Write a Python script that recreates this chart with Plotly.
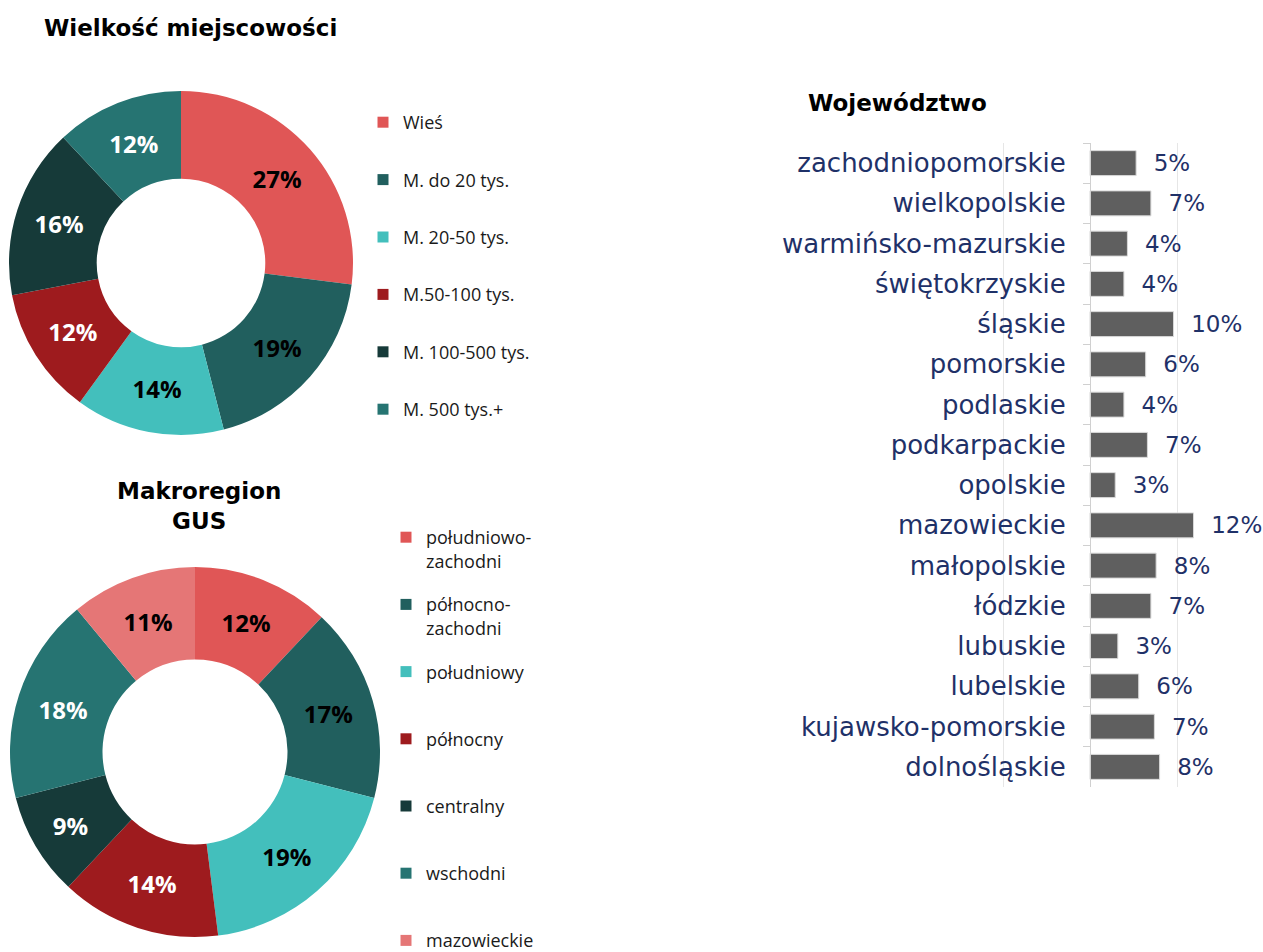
import plotly.graph_objects as go

W, H = 1263, 952

# --- Data ---
size_labels = ["Wieś", "M. do 20 tys.", "M. 20-50 tys.", "M.50-100 tys.", "M. 100-500 tys.", "M. 500 tys.+"]
size_values = [27, 19, 14, 12, 16, 12]
size_colors = ["#E05656", "#215F5E", "#43BFBC", "#9E1B1E", "#163A39", "#267472"]
size_text_colors = ["black", "black", "black", "white", "white", "white"]

region_labels = ["południowo-<br>zachodni", "północno-<br>zachodni", "południowy", "północny", "centralny", "wschodni", "mazowieckie"]
region_values = [12, 17, 19, 14, 9, 18, 11]
region_colors = ["#E05656", "#215F5E", "#43BFBC", "#9E1B1E", "#163A39", "#267472", "#E57676"]
region_text_colors = ["black", "black", "black", "white", "white", "white", "black"]

voiv_labels = ["zachodniopomorskie", "wielkopolskie", "warmińsko-mazurskie", "świętokrzyskie", "śląskie",
               "pomorskie", "podlaskie", "podkarpackie", "opolskie", "mazowieckie", "małopolskie", "łódzkie",
               "lubuskie", "lubelskie", "kujawsko-pomorskie", "dolnośląskie"]
voiv_values = [0.053, 0.070, 0.043, 0.039, 0.096, 0.064, 0.039, 0.066, 0.029, 0.119, 0.076, 0.070,
               0.032, 0.056, 0.074, 0.080]

NAVY = "#1F3168"

def px_x(p):
    return p / W

def px_y(p):
    return 1 - p / H

fig = go.Figure()

# Donut 1
fig.add_trace(go.Pie(
    labels=size_labels, values=size_values, sort=False, direction="clockwise", rotation=0,
    hole=0.49, marker=dict(colors=size_colors),
    texttemplate="<b>%{value}%</b>", textposition="inside", insidetextorientation="horizontal",
    textfont=dict(family="Open Sans", size=24, color=size_text_colors),
    domain=dict(x=[px_x(9), px_x(353)], y=[px_y(435), px_y(91)]),
    showlegend=False, hoverinfo="label+value",
))

# Donut 2
fig.add_trace(go.Pie(
    labels=region_labels, values=region_values, sort=False, direction="clockwise", rotation=0,
    hole=0.5, marker=dict(colors=region_colors),
    texttemplate="<b>%{value}%</b>", textposition="inside", insidetextorientation="horizontal",
    textfont=dict(family="Open Sans", size=24, color=region_text_colors),
    domain=dict(x=[px_x(10), px_x(380)], y=[px_y(937), px_y(567)]),
    showlegend=False, hoverinfo="label+value",
))

# Legend entries (dummy traces so each item can be spaced like the original)
for i, (lab, col) in enumerate(zip(size_labels, size_colors)):
    fig.add_trace(go.Scatter(
        x=[None], y=[None], mode="markers", name=lab,
        marker=dict(symbol="square", size=11, color=col),
        xaxis="x2", yaxis="y2", legend="legend", legendgroup=f"s{i}", hoverinfo="skip",
    ))
for i, (lab, col) in enumerate(zip(region_labels, region_colors)):
    name = lab if "<br>" in lab else lab + "<br>&nbsp;"
    fig.add_trace(go.Scatter(
        x=[None], y=[None], mode="markers", name=name,
        marker=dict(symbol="square", size=11, color=col),
        xaxis="x2", yaxis="y2", legend="legend2", legendgroup=f"r{i}", hoverinfo="skip",
    ))

# Horizontal bar chart
fig.add_trace(go.Bar(
    y=voiv_labels, x=voiv_values, orientation="h",
    marker=dict(color="#5F5F5F", line=dict(color="#D9D9D9", width=1)),
    width=0.62,
    texttemplate="\u00a0\u00a0%{x:.0%}", textposition="outside", constraintext="none",
    textfont=dict(family="DejaVu Sans", size=23, color=NAVY),
    cliponaxis=False, showlegend=False, hoverinfo="y+x",
    xaxis="x", yaxis="y",
))

x0_px = 1090.0
ppu = 870.0
xmin, xmax = -0.105, 0.19
L = x0_px + xmin * ppu
R = x0_px + xmax * ppu

fig.update_layout(
    width=W, height=H,
    margin=dict(l=0, r=0, t=0, b=0, autoexpand=False),
    paper_bgcolor="white", plot_bgcolor="rgba(0,0,0,0)",
    font=dict(family="Open Sans", color="#1a1a1a"),
    xaxis=dict(domain=[px_x(L), px_x(R)], range=[xmin, xmax], anchor="y",
               showticklabels=False, showgrid=True, gridcolor="#E6E6E6", gridwidth=1,
               tick0=0, dtick=0.1, zeroline=False, showline=False, ticks="", fixedrange=True),
    yaxis=dict(domain=[px_y(787), px_y(143)], anchor="free", position=px_x(x0_px),
               autorange="reversed", type="category", automargin=False,
               showline=True, linecolor="#D0D0D0", linewidth=1,
               ticks="outside", tickson="boundaries", ticklen=7, tickcolor="#D0D0D0",
               showgrid=False, ticklabelstandoff=19,
               tickfont=dict(family="DejaVu Sans", size=26, color=NAVY), fixedrange=True),
    xaxis2=dict(domain=[0, 0.01], visible=False, anchor="y2"),
    yaxis2=dict(domain=[0, 0.01], visible=False, anchor="x2"),
    legend=dict(x=px_x(363), y=px_y(104), xanchor="left", yanchor="top",
                font=dict(family="Open Sans", size=18, color="#1a1a1a"),
                tracegroupgap=31, traceorder="grouped", bgcolor="rgba(0,0,0,0)", valign="middle"),
    legend2=dict(x=px_x(386), y=px_y(519), xanchor="left", yanchor="top",
                 font=dict(family="Open Sans", size=18, color="#1a1a1a"),
                 tracegroupgap=17.4, traceorder="grouped", bgcolor="rgba(0,0,0,0)", valign="top"),
    annotations=[
        dict(text="<b>Wielkość miejscowości</b>", x=px_x(190), y=px_y(28), xref="paper", yref="paper",
             xanchor="center", yanchor="middle", showarrow=False,
             font=dict(family="DejaVu Sans", size=23, color="black")),
        dict(text="<b>Makroregion<br>GUS</b>", x=px_x(199), y=px_y(506), xref="paper", yref="paper",
             xanchor="center", yanchor="middle", showarrow=False,
             font=dict(family="DejaVu Sans", size=23, color="black")),
        dict(text="<b>Województwo</b>", x=px_x(806), y=px_y(103), xref="paper", yref="paper",
             xanchor="left", yanchor="middle", showarrow=False,
             font=dict(family="DejaVu Sans", size=23, color="black")),
    ],
)

fig.write_html("out.html", config={"displayModeBar": False},
               post_script="document.body.style.margin='0';document.body.style.overflow='hidden';")
